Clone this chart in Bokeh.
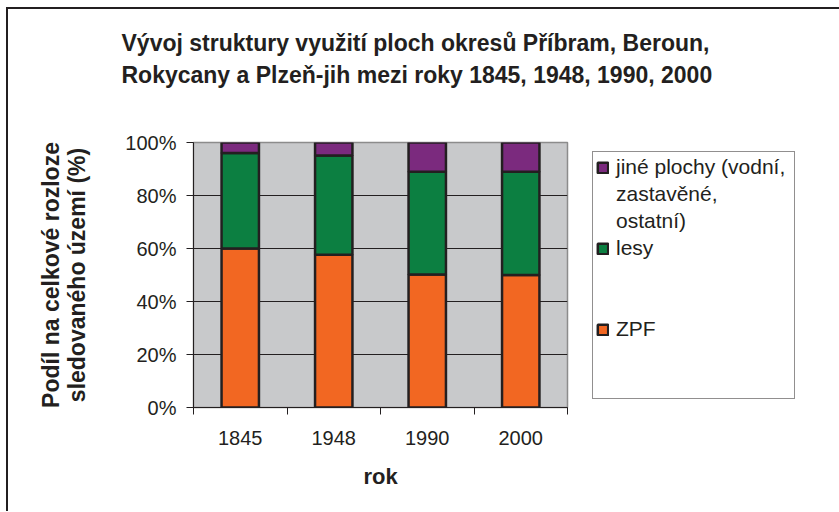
import numpy as np
from bokeh.plotting import figure
from bokeh.models import (Legend, LegendItem, Title, FixedTicker, PrintfTickFormatter,
                          ColumnDataSource, Range1d)
from bokeh.embed import file_html
from bokeh.resources import INLINE

years = ["1845", "1948", "1990", "2000"]
zpf = [60.0, 57.6, 50.2, 50.0]
lesy = [36.0, 37.5, 38.8, 39.0]
jine = [4.0, 4.9, 11.0, 11.0]
y_ticks = [0, 20, 40, 60, 80, 100]
jine_lines = ["jiné plochy (vodní,", "zastavěné,", "ostatní)"]
lesy_name = "lesy"
zpf_name = "ZPF"
colors = ["#f26722", "#0c7f41", "#7b2a7e"]

FONT = "Liberation Sans"
DARK = "#231f20"

x = np.arange(len(years)) + 0.5
src = ColumnDataSource(dict(x=x, zpf=zpf, lesy=lesy, jine=jine))

p = figure(frame_width=374, frame_height=265, output_backend="svg", toolbar_location=None,
           x_range=Range1d(0, len(years)), y_range=Range1d(0, 100),
           min_border_left=185, min_border_right=271, min_border_top=133,
           min_border_bottom=104)
p.styles = {"border-left": "2px solid #231f20", "border-top": "2px solid #231f20",
            "margin-left": "6px", "margin-top": "7px"}
p.title.visible = False
p.background_fill_color = "#c8c9cb"
p.border_fill_color = "white"
p.outline_line_color = "#8c8c8c"
p.outline_line_width = 1.5

rs = p.vbar_stack(["zpf", "lesy", "jine"], x="x", width=0.4, color=colors,
                  line_color=DARK, line_width=2.5, source=src)

# grid
p.xgrid.visible = False
p.ygrid.grid_line_color = DARK
p.ygrid.grid_line_width = 1
p.ygrid.ticker = FixedTicker(ticks=y_ticks)

# y axis
ya = p.yaxis[0]
ya.ticker = FixedTicker(ticks=y_ticks)
ya.formatter = PrintfTickFormatter(format="%d%%")
ya.major_tick_in = 0
ya.major_tick_out = 7
ya.minor_tick_out = 0
ya.minor_tick_in = 0
ya.axis_line_color = DARK
ya.major_tick_line_color = DARK
ya.major_label_text_font = FONT
ya.major_label_text_font_size = "20px"
ya.major_label_text_color = DARK
ya.major_label_standoff = 10
ya.axis_label = "Podíl na celkové rozloze\nsledovaného území (%)"
ya.axis_label_text_font = FONT
ya.axis_label_text_font_size = "23px"
ya.axis_label_text_font_style = "bold"
ya.axis_label_text_color = DARK
ya.axis_label_text_line_height = 1.0
ya.axis_label_standoff = 32

# x axis
xa = p.xaxis[0]
xa.ticker = FixedTicker(ticks=list(x), minor_ticks=list(range(len(years) + 1)))
xa.major_label_overrides = {float(xi): yr for xi, yr in zip(x, years)}
xa.major_tick_out = 0
xa.major_tick_in = 0
xa.minor_tick_out = 7
xa.minor_tick_in = 0
xa.minor_tick_line_color = DARK
xa.axis_line_color = DARK
xa.major_label_text_font = FONT
xa.major_label_text_font_size = "20px"
xa.major_label_text_color = DARK
xa.major_label_standoff = 16
xa.axis_label = "rok"
xa.axis_label_text_font = FONT
xa.axis_label_text_font_size = "22px"
xa.axis_label_text_font_style = "bold"
xa.axis_label_text_color = DARK
xa.axis_label_standoff = 16

# title (a blank spacer title keeps it away from the plot area)
spacer = Title(text=" ", text_font=FONT, text_font_size="20px", standoff=30)
title = Title(text="Vývoj struktury využití ploch okresů Příbram, Beroun,\n"
                   "Rokycany a Plzeň-jih mezi roky 1845, 1948, 1990, 2000",
              align="left", offset=-72, standoff=0, text_font=FONT,
              text_font_size="23px", text_font_style="bold", text_color=DARK,
              text_line_height=1.26)
p.add_layout(spacer, "above")
p.add_layout(title, "above")

# legend: one slot per text line
items = [LegendItem(label=jine_lines[0], renderers=[rs[2]])]
items += [LegendItem(label=t, renderers=[]) for t in jine_lines[1:]]
items += [LegendItem(label=lesy_name, renderers=[rs[1]])]
items += [LegendItem(label=" ", renderers=[]) for _ in range(2)]
items += [LegendItem(label=zpf_name, renderers=[rs[0]])]
items += [LegendItem(label=" ", renderers=[]) for _ in range(2)]
legend = Legend(items=items, location=(25, 8), border_line_color=DARK,
                border_line_width=1, background_fill_color="white",
                background_fill_alpha=1.0,
                label_text_font=FONT, label_text_font_size="21px",
                label_text_color=DARK, glyph_width=13, glyph_height=13,
                label_standoff=7, padding=3, spacing=3, label_height=24,
                label_width=175)
p.add_layout(legend, "right")

open("out.html", "w").write(file_html(p, INLINE))
